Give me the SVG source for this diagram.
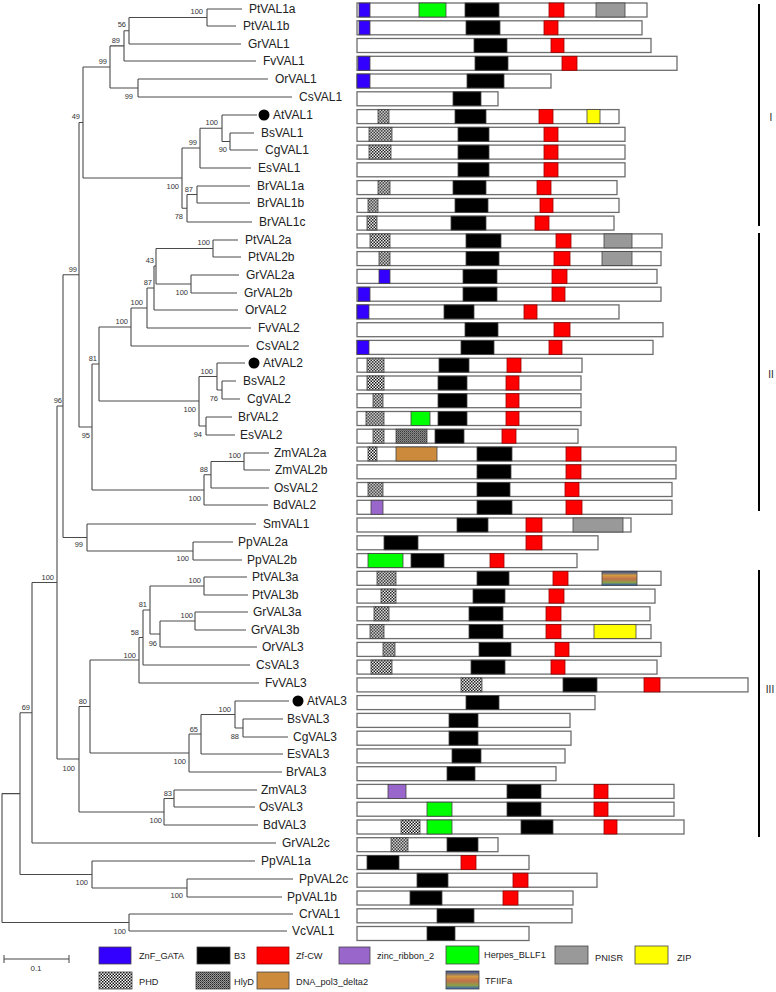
<svg xmlns="http://www.w3.org/2000/svg" width="776" height="992" viewBox="0 0 776 992">
<style>
.e{fill:none;stroke:#4a4a4a;stroke-width:1.1}
.tx{font-family:"Liberation Sans",Arial,sans-serif;font-size:12px;fill:#222}
.bs{font-family:"Liberation Sans",Arial,sans-serif;font-size:7.5px;fill:#333;text-anchor:end}
.lg{font-family:"Liberation Sans",Arial,sans-serif;font-size:9.2px;fill:#222}
.cl{font-family:"Liberation Sans",Arial,sans-serif;font-size:10px;fill:#222}
.bar{fill:#fff;stroke:#6e6e6e;stroke-width:1.3}
.d{stroke:#444;stroke-width:0.8}
.zn{fill:#3300ff}.b3{fill:#000}.cw{fill:#ff0000;stroke:#900}.zr{fill:#9966cc}.hb{fill:#00ff00}.pn{fill:#999}.zip{fill:#ffff00}.phd{fill:url(#pPHD)}.hly{fill:url(#pHly)}.dna{fill:#cc8a3c}.tf{fill:url(#gTF)}
</style>
<defs>
<pattern id="pPHD" width="3" height="3" patternUnits="userSpaceOnUse"><rect width="3" height="3" fill="#fff"/><rect width="1.5" height="1.5" fill="#111"/><rect x="1.5" y="1.5" width="1.5" height="1.5" fill="#111"/></pattern>
<pattern id="pHly" width="2" height="2" patternUnits="userSpaceOnUse"><rect width="2" height="2" fill="#9a9a9a"/><rect width="1" height="1" fill="#222"/><rect x="1" y="1" width="1" height="1" fill="#555"/></pattern>
<linearGradient id="gTF" x1="0" y1="0" x2="0" y2="1"><stop offset="0" stop-color="#2c4c9c"/><stop offset="0.3" stop-color="#d49a40"/><stop offset="0.55" stop-color="#c0704c"/><stop offset="0.8" stop-color="#8aa048"/><stop offset="1" stop-color="#3060c0"/></linearGradient>
</defs>
<rect width="776" height="992" fill="#fff"/>
<g id="connectors">
<path class="e" d="M207 9H242M207 26H236M129 44H241M124 61H256M138 79H268M138 97H292M222 115H257M230 133H254M230 150H258M200 168H251M197 186H250M197 203H250M187 222H252M213 240H238M213 257H241M191 275H239M191 293H237M154 310H238M147 328H251M131 346H249M217 363H245M222 381H236M222 399H240M206 417H232M206 435H235M244 453H269M244 470H270M211 488H269M204 505H268M87 524H256M193 542H233M193 560H242M204 577H247M204 595H248M195 612H248M195 630H246M160 647H257M143 665H250M139 683H259M235 701H289M243 719H283M243 737H288M201 754H283M189 772H282M174 790H257M174 807H255M164 825H258M32 843H276M92 861H255M187 879H293M187 897H282M129 914H293M129 931H287"/>
<path class="e" d="M129 17.5H207M124 30.75H129M110 45.9H124M110 88H138M83 67H110M222 141.5H230M200 128.25H222M182 148H200M187 194.5H197M182 208.25H187M83 178H182M79 122.5H83M156 248.5H213M156 284H191M154 266H156M147 288H154M131 308H147M99 327H131M217 390H222M199 376.5H217M199 426H206M99 401H199M92 364H99M211 461.5H244M204 474.75H211M92 490H204M79 427H92M63 274.75H79M87 551H193M63 537.5H87M57 406H63M150 586H204M160 621H195M150 634H160M143 610H150M139 637.5H143M90 660H139M235 728H243M201 714.5H235M189 734H201M90 753H189M79 706.5H90M164 798.5H174M79 812H164M57 759H79M32 582.5H57M20 712.75H32M92 888H187M20 874.5H92M2 793.6H20M2 922.5H129"/>
<path class="e" d="M207 9V26M129 17.5V44M124 30.75V61M138 79V97M110 45.9V88M230 133V150M222 115V141.5M200 128.25V168M197 186V203M187 194.5V222M182 148V208.25M83 67V178M213 240V257M191 275V293M156 248.5V284M154 266V310M147 288V328M131 308V346M222 381V399M217 363V390M206 417V435M199 376.5V426M99 327V401M244 453V470M211 461.5V488M204 474.75V505M92 364V490M79 122.5V427M193 542V560M87 524V551M63 274.75V537.5M204 577V595M195 612V630M160 621V647M150 586V634M143 610V665M139 637.5V683M243 719V737M235 701V728M201 714.5V754M189 734V772M90 660V753M174 790V807M164 798.5V825M79 706.5V812M57 406V759M32 582.5V843M187 879V897M92 861V888M20 712.75V874.5M129 914V931M2 793.6V922.5"/>
</g>
<g id="bootstrap">
<text class="bs" x="203" y="13.7">100</text>
<text class="bs" x="126" y="26.7">56</text>
<text class="bs" x="120" y="42.7">89</text>
<text class="bs" x="133" y="98.7">99</text>
<text class="bs" x="107" y="63.7">99</text>
<text class="bs" x="218" y="124.7">100</text>
<text class="bs" x="227" y="151.7">90</text>
<text class="bs" x="197" y="144.7">99</text>
<text class="bs" x="193" y="191.7">87</text>
<text class="bs" x="183" y="218.7">78</text>
<text class="bs" x="179" y="188.7">100</text>
<text class="bs" x="80" y="118.7">49</text>
<text class="bs" x="77" y="271.7">99</text>
<text class="bs" x="210" y="244.7">100</text>
<text class="bs" x="188" y="294.7">100</text>
<text class="bs" x="154" y="262.7">43</text>
<text class="bs" x="152" y="284.7">87</text>
<text class="bs" x="143" y="304.7">100</text>
<text class="bs" x="128" y="323.7">100</text>
<text class="bs" x="97" y="360.7">81</text>
<text class="bs" x="90" y="437.7">95</text>
<text class="bs" x="196" y="411.7">100</text>
<text class="bs" x="213" y="373.7">100</text>
<text class="bs" x="218" y="400.7">76</text>
<text class="bs" x="202" y="436.7">94</text>
<text class="bs" x="241" y="457.7">100</text>
<text class="bs" x="208" y="471.7">88</text>
<text class="bs" x="201" y="500.7">100</text>
<text class="bs" x="62" y="402.7">96</text>
<text class="bs" x="83" y="546.7">99</text>
<text class="bs" x="189" y="560.7">100</text>
<text class="bs" x="54" y="579.7">100</text>
<text class="bs" x="75" y="770.7">100</text>
<text class="bs" x="87" y="703.7">80</text>
<text class="bs" x="136" y="657.7">100</text>
<text class="bs" x="139" y="634.7">58</text>
<text class="bs" x="147" y="606.7">81</text>
<text class="bs" x="201" y="582.7">100</text>
<text class="bs" x="157" y="645.7">96</text>
<text class="bs" x="193" y="617.7">100</text>
<text class="bs" x="186" y="763.7">100</text>
<text class="bs" x="198" y="731.7">65</text>
<text class="bs" x="231" y="711.7">100</text>
<text class="bs" x="239" y="738.7">88</text>
<text class="bs" x="162" y="822.7">100</text>
<text class="bs" x="172" y="795.7">83</text>
<text class="bs" x="30" y="709.7">69</text>
<text class="bs" x="88" y="884.7">100</text>
<text class="bs" x="183" y="897.7">100</text>
<text class="bs" x="126" y="933.7">100</text>
</g>
<g id="taxa">
<g id="PtVAL1a"><text class="tx" x="249" y="13">PtVAL1a</text><g transform="translate(0,3)"><rect class="bar" x="357" width="290" height="14"/><rect class="d zn" x="359" width="11" height="14"/><rect class="d hb" x="419" width="27" height="14"/><rect class="d b3" x="465" width="34" height="14"/><rect class="d cw" x="549" width="15" height="14"/><rect class="d pn" x="596" width="29" height="14"/></g></g>
<g id="PtVAL1b"><text class="tx" x="243" y="30">PtVAL1b</text><g transform="translate(0,20.8)"><rect class="bar" x="357" width="285" height="14"/><rect class="d zn" x="359" width="11" height="14"/><rect class="d b3" x="466" width="34" height="14"/><rect class="d cw" x="544" width="14" height="14"/></g></g>
<g id="GrVAL1"><text class="tx" x="248" y="48">GrVAL1</text><g transform="translate(0,38.5)"><rect class="bar" x="357" width="294" height="14"/><rect class="d b3" x="474" width="33" height="14"/><rect class="d cw" x="551" width="13" height="14"/></g></g>
<g id="FvVAL1"><text class="tx" x="263" y="65">FvVAL1</text><g transform="translate(0,56.3)"><rect class="bar" x="357" width="320" height="14"/><rect class="d zn" x="358" width="12" height="14"/><rect class="d b3" x="475" width="33" height="14"/><rect class="d cw" x="562" width="15" height="14"/></g></g>
<g id="OrVAL1"><text class="tx" x="275" y="83">OrVAL1</text><g transform="translate(0,74)"><rect class="bar" x="357" width="194" height="14"/><rect class="d zn" x="357" width="13" height="14"/><rect class="d b3" x="467" width="37" height="14"/></g></g>
<g id="CsVAL1"><text class="tx" x="299" y="101">CsVAL1</text><g transform="translate(0,91.8)"><rect class="bar" x="357" width="141" height="14"/><rect class="d b3" x="453" width="28" height="14"/></g></g>
<g id="AtVAL1"><circle cx="264" cy="115" r="5.5" fill="#000"/><text class="tx" x="273" y="119">AtVAL1</text><g transform="translate(0,109.6)"><rect class="bar" x="357" width="262" height="14"/><rect class="d phd" x="378" width="11" height="14"/><rect class="d b3" x="455" width="31" height="14"/><rect class="d cw" x="539" width="14" height="14"/><rect class="d zip" x="587" width="13" height="14"/></g></g>
<g id="BsVAL1"><text class="tx" x="261" y="137">BsVAL1</text><g transform="translate(0,127.3)"><rect class="bar" x="357" width="268" height="14"/><rect class="d phd" x="369" width="23" height="14"/><rect class="d b3" x="458" width="31" height="14"/><rect class="d cw" x="544" width="14" height="14"/></g></g>
<g id="CgVAL1"><text class="tx" x="265" y="154">CgVAL1</text><g transform="translate(0,145.1)"><rect class="bar" x="357" width="268" height="14"/><rect class="d phd" x="369" width="22" height="14"/><rect class="d b3" x="458" width="31" height="14"/><rect class="d cw" x="544" width="14" height="14"/></g></g>
<g id="EsVAL1"><text class="tx" x="258" y="172">EsVAL1</text><g transform="translate(0,162.8)"><rect class="bar" x="357" width="268" height="14"/><rect class="d b3" x="458" width="31" height="14"/><rect class="d cw" x="544" width="14" height="14"/></g></g>
<g id="BrVAL1a"><text class="tx" x="257" y="190">BrVAL1a</text><g transform="translate(0,180.6)"><rect class="bar" x="357" width="260" height="14"/><rect class="d phd" x="378" width="12" height="14"/><rect class="d b3" x="453" width="33" height="14"/><rect class="d cw" x="537" width="14" height="14"/></g></g>
<g id="BrVAL1b"><text class="tx" x="257" y="207">BrVAL1b</text><g transform="translate(0,198.4)"><rect class="bar" x="357" width="262" height="14"/><rect class="d phd" x="368" width="10" height="14"/><rect class="d b3" x="455" width="33" height="14"/><rect class="d cw" x="540" width="13" height="14"/></g></g>
<g id="BrVAL1c"><text class="tx" x="259" y="226">BrVAL1c</text><g transform="translate(0,216.1)"><rect class="bar" x="357" width="257" height="14"/><rect class="d phd" x="367" width="10" height="14"/><rect class="d b3" x="451" width="35" height="14"/><rect class="d cw" x="535" width="14" height="14"/></g></g>
<g id="PtVAL2a"><text class="tx" x="245" y="244">PtVAL2a</text><g transform="translate(0,233.9)"><rect class="bar" x="357" width="305" height="14"/><rect class="d phd" x="370" width="20" height="14"/><rect class="d b3" x="466" width="35" height="14"/><rect class="d cw" x="556" width="15" height="14"/><rect class="d pn" x="604" width="28" height="14"/></g></g>
<g id="PtVAL2b"><text class="tx" x="248" y="261">PtVAL2b</text><g transform="translate(0,251.6)"><rect class="bar" x="357" width="304" height="14"/><rect class="d phd" x="379" width="11" height="14"/><rect class="d b3" x="466" width="33" height="14"/><rect class="d cw" x="554" width="16" height="14"/><rect class="d pn" x="602" width="30" height="14"/></g></g>
<g id="GrVAL2a"><text class="tx" x="246" y="279">GrVAL2a</text><g transform="translate(0,269.4)"><rect class="bar" x="357" width="300" height="14"/><rect class="d zn" x="379" width="11" height="14"/><rect class="d b3" x="463" width="34" height="14"/><rect class="d cw" x="552" width="15" height="14"/></g></g>
<g id="GrVAL2b"><text class="tx" x="244" y="297">GrVAL2b</text><g transform="translate(0,287.2)"><rect class="bar" x="357" width="304" height="14"/><rect class="d zn" x="358" width="12" height="14"/><rect class="d b3" x="463" width="34" height="14"/><rect class="d cw" x="552" width="13" height="14"/></g></g>
<g id="OrVAL2"><text class="tx" x="245" y="314">OrVAL2</text><g transform="translate(0,304.9)"><rect class="bar" x="357" width="262" height="14"/><rect class="d zn" x="357" width="12" height="14"/><rect class="d b3" x="444" width="30" height="14"/><rect class="d cw" x="524" width="13" height="14"/></g></g>
<g id="FvVAL2"><text class="tx" x="258" y="332">FvVAL2</text><g transform="translate(0,322.7)"><rect class="bar" x="357" width="306" height="14"/><rect class="d b3" x="465" width="33" height="14"/><rect class="d cw" x="554" width="16" height="14"/></g></g>
<g id="CsVAL2"><text class="tx" x="256" y="350">CsVAL2</text><g transform="translate(0,340.4)"><rect class="bar" x="357" width="296" height="14"/><rect class="d zn" x="357" width="12" height="14"/><rect class="d b3" x="461" width="33" height="14"/><rect class="d cw" x="549" width="13" height="14"/></g></g>
<g id="AtVAL2"><circle cx="254" cy="363" r="5.5" fill="#000"/><text class="tx" x="263" y="367">AtVAL2</text><g transform="translate(0,358.2)"><rect class="bar" x="357" width="225" height="14"/><rect class="d phd" x="367" width="17" height="14"/><rect class="d b3" x="439" width="30" height="14"/><rect class="d cw" x="507" width="14" height="14"/></g></g>
<g id="BsVAL2"><text class="tx" x="243" y="385">BsVAL2</text><g transform="translate(0,376)"><rect class="bar" x="357" width="224" height="14"/><rect class="d phd" x="367" width="17" height="14"/><rect class="d b3" x="438" width="29" height="14"/><rect class="d cw" x="506" width="13" height="14"/></g></g>
<g id="CgVAL2"><text class="tx" x="247" y="403">CgVAL2</text><g transform="translate(0,393.7)"><rect class="bar" x="357" width="224" height="14"/><rect class="d phd" x="373" width="10" height="14"/><rect class="d b3" x="438" width="29" height="14"/><rect class="d cw" x="506" width="13" height="14"/></g></g>
<g id="BrVAL2"><text class="tx" x="238" y="421">BrVAL2</text><g transform="translate(0,411.5)"><rect class="bar" x="357" width="224" height="14"/><rect class="d phd" x="366" width="18" height="14"/><rect class="d hb" x="411" width="19" height="14"/><rect class="d b3" x="438" width="29" height="14"/><rect class="d cw" x="506" width="13" height="14"/></g></g>
<g id="EsVAL2"><text class="tx" x="240" y="439">EsVAL2</text><g transform="translate(0,429.2)"><rect class="bar" x="357" width="221" height="14"/><rect class="d phd" x="373" width="11" height="14"/><rect class="d hly" x="396" width="31" height="14"/><rect class="d b3" x="435" width="29" height="14"/><rect class="d cw" x="502" width="14" height="14"/></g></g>
<g id="ZmVAL2a"><text class="tx" x="274" y="457">ZmVAL2a</text><g transform="translate(0,447)"><rect class="bar" x="357" width="319" height="14"/><rect class="d phd" x="368" width="9" height="14"/><rect class="d dna" x="396" width="41" height="14"/><rect class="d b3" x="477" width="35" height="14"/><rect class="d cw" x="566" width="15" height="14"/></g></g>
<g id="ZmVAL2b"><text class="tx" x="275" y="474">ZmVAL2b</text><g transform="translate(0,464.8)"><rect class="bar" x="357" width="319" height="14"/><rect class="d b3" x="477" width="34" height="14"/><rect class="d cw" x="566" width="15" height="14"/></g></g>
<g id="OsVAL2"><text class="tx" x="274" y="492">OsVAL2</text><g transform="translate(0,482.5)"><rect class="bar" x="357" width="315" height="14"/><rect class="d phd" x="368" width="15" height="14"/><rect class="d b3" x="477" width="33" height="14"/><rect class="d cw" x="565" width="14" height="14"/></g></g>
<g id="BdVAL2"><text class="tx" x="273" y="509">BdVAL2</text><g transform="translate(0,500.3)"><rect class="bar" x="357" width="315" height="14"/><rect class="d zr" x="371" width="12" height="14"/><rect class="d b3" x="477" width="35" height="14"/><rect class="d cw" x="566" width="16" height="14"/></g></g>
<g id="SmVAL1"><text class="tx" x="263" y="528">SmVAL1</text><g transform="translate(0,518)"><rect class="bar" x="357" width="274" height="14"/><rect class="d b3" x="457" width="31" height="14"/><rect class="d cw" x="526" width="16" height="14"/><rect class="d pn" x="573" width="50" height="14"/></g></g>
<g id="PpVAL2a"><text class="tx" x="238" y="546">PpVAL2a</text><g transform="translate(0,535.8)"><rect class="bar" x="357" width="241" height="14"/><rect class="d b3" x="384" width="34" height="14"/><rect class="d cw" x="526" width="16" height="14"/></g></g>
<g id="PpVAL2b"><text class="tx" x="247" y="564">PpVAL2b</text><g transform="translate(0,553.6)"><rect class="bar" x="357" width="220" height="14"/><rect class="d hb" x="368" width="35" height="14"/><rect class="d b3" x="411" width="33" height="14"/><rect class="d cw" x="490" width="14" height="14"/></g></g>
<g id="PtVAL3a"><text class="tx" x="252" y="581">PtVAL3a</text><g transform="translate(0,571.3)"><rect class="bar" x="357" width="304" height="14"/><rect class="d phd" x="377" width="19" height="14"/><rect class="d b3" x="477" width="32" height="14"/><rect class="d cw" x="553" width="15" height="14"/><rect class="d tf" x="602" width="35" height="14"/></g></g>
<g id="PtVAL3b"><text class="tx" x="252" y="599">PtVAL3b</text><g transform="translate(0,589.1)"><rect class="bar" x="357" width="298" height="14"/><rect class="d phd" x="381" width="15" height="14"/><rect class="d b3" x="473" width="32" height="14"/><rect class="d cw" x="549" width="15" height="14"/></g></g>
<g id="GrVAL3a"><text class="tx" x="253" y="616">GrVAL3a</text><g transform="translate(0,606.8)"><rect class="bar" x="357" width="293" height="14"/><rect class="d phd" x="374" width="15" height="14"/><rect class="d b3" x="469" width="34" height="14"/><rect class="d cw" x="546" width="15" height="14"/></g></g>
<g id="GrVAL3b"><text class="tx" x="251" y="634">GrVAL3b</text><g transform="translate(0,624.6)"><rect class="bar" x="357" width="294" height="14"/><rect class="d phd" x="370" width="14" height="14"/><rect class="d b3" x="469" width="34" height="14"/><rect class="d cw" x="546" width="15" height="14"/><rect class="d zip" x="594" width="42" height="14"/></g></g>
<g id="OrVAL3"><text class="tx" x="262" y="651">OrVAL3</text><g transform="translate(0,642.4)"><rect class="bar" x="357" width="304" height="14"/><rect class="d phd" x="383" width="12" height="14"/><rect class="d b3" x="479" width="32" height="14"/><rect class="d cw" x="555" width="14" height="14"/></g></g>
<g id="CsVAL3"><text class="tx" x="256" y="669">CsVAL3</text><g transform="translate(0,660.1)"><rect class="bar" x="357" width="300" height="14"/><rect class="d phd" x="371" width="21" height="14"/><rect class="d b3" x="471" width="34" height="14"/><rect class="d cw" x="551" width="14" height="14"/></g></g>
<g id="FvVAL3"><text class="tx" x="265" y="687">FvVAL3</text><g transform="translate(0,677.9)"><rect class="bar" x="357" width="391" height="14"/><rect class="d phd" x="461" width="21" height="14"/><rect class="d b3" x="563" width="34" height="14"/><rect class="d cw" x="644" width="16" height="14"/></g></g>
<g id="AtVAL3"><circle cx="298" cy="701" r="5.5" fill="#000"/><text class="tx" x="307" y="705">AtVAL3</text><g transform="translate(0,695.6)"><rect class="bar" x="357" width="238" height="14"/><rect class="d b3" x="466" width="33" height="14"/></g></g>
<g id="BsVAL3"><text class="tx" x="287" y="723">BsVAL3</text><g transform="translate(0,713.4)"><rect class="bar" x="357" width="213" height="14"/><rect class="d b3" x="449" width="29" height="14"/></g></g>
<g id="CgVAL3"><text class="tx" x="293" y="741">CgVAL3</text><g transform="translate(0,731.2)"><rect class="bar" x="357" width="214" height="14"/><rect class="d b3" x="449" width="29" height="14"/></g></g>
<g id="EsVAL3"><text class="tx" x="287" y="758">EsVAL3</text><g transform="translate(0,748.9)"><rect class="bar" x="357" width="208" height="14"/><rect class="d b3" x="452" width="29" height="14"/></g></g>
<g id="BrVAL3"><text class="tx" x="286" y="776">BrVAL3</text><g transform="translate(0,766.7)"><rect class="bar" x="357" width="199" height="14"/><rect class="d b3" x="447" width="28" height="14"/></g></g>
<g id="ZmVAL3"><text class="tx" x="261" y="794">ZmVAL3</text><g transform="translate(0,784.4)"><rect class="bar" x="357" width="317" height="14"/><rect class="d zr" x="388" width="18" height="14"/><rect class="d b3" x="507" width="34" height="14"/><rect class="d cw" x="594" width="14" height="14"/></g></g>
<g id="OsVAL3"><text class="tx" x="259" y="811">OsVAL3</text><g transform="translate(0,802.2)"><rect class="bar" x="357" width="317" height="14"/><rect class="d hb" x="427" width="25" height="14"/><rect class="d b3" x="507" width="34" height="14"/><rect class="d cw" x="594" width="14" height="14"/></g></g>
<g id="BdVAL3"><text class="tx" x="263" y="829">BdVAL3</text><g transform="translate(0,820)"><rect class="bar" x="357" width="327" height="14"/><rect class="d phd" x="401" width="19" height="14"/><rect class="d hb" x="427" width="25" height="14"/><rect class="d b3" x="521" width="32" height="14"/><rect class="d cw" x="604" width="13" height="14"/></g></g>
<g id="GrVAL2c"><text class="tx" x="282" y="847">GrVAL2c</text><g transform="translate(0,837.7)"><rect class="bar" x="357" width="141" height="14"/><rect class="d phd" x="391" width="17" height="14"/><rect class="d b3" x="447" width="31" height="14"/></g></g>
<g id="PpVAL1a"><text class="tx" x="261" y="865">PpVAL1a</text><g transform="translate(0,855.5)"><rect class="bar" x="357" width="172" height="14"/><rect class="d b3" x="367" width="32" height="14"/><rect class="d cw" x="461" width="15" height="14"/></g></g>
<g id="PpVAL2c"><text class="tx" x="299" y="883">PpVAL2c</text><g transform="translate(0,873.2)"><rect class="bar" x="357" width="240" height="14"/><rect class="d b3" x="417" width="31" height="14"/><rect class="d cw" x="513" width="15" height="14"/></g></g>
<g id="PpVAL1b"><text class="tx" x="287" y="901">PpVAL1b</text><g transform="translate(0,891)"><rect class="bar" x="357" width="216" height="14"/><rect class="d b3" x="410" width="32" height="14"/><rect class="d cw" x="503" width="15" height="14"/></g></g>
<g id="CrVAL1"><text class="tx" x="299" y="918">CrVAL1</text><g transform="translate(0,908.8)"><rect class="bar" x="357" width="215" height="14"/><rect class="d b3" x="437" width="37" height="14"/></g></g>
<g id="VcVAL1"><text class="tx" x="292" y="935">VcVAL1</text><g transform="translate(0,926.5)"><rect class="bar" x="357" width="172" height="14"/><rect class="d b3" x="427" width="28" height="14"/></g></g>
</g>
<g id="clades">
<path d="M759 4V226M759 233V511M759 570V837" stroke="#000" stroke-width="2" fill="none"/>
<text class="cl" x="771" y="121" text-anchor="middle">I</text>
<text class="cl" x="771" y="378" text-anchor="middle">II</text>
<text class="cl" x="770" y="693" text-anchor="middle">III</text>
</g>
<g id="scale">
<path d="M4 959H69M4 955V963M69 955V963" stroke="#444" stroke-width="1" fill="none"/>
<text class="bs" x="36" y="971" style="text-anchor:middle;font-size:8px">0.1</text>
</g>
<g id="legend">
<rect class="d zn" x="99" y="947" width="32" height="17"/><text class="lg" x="139" y="959">ZnF_GATA</text>
<rect class="d b3" x="197" y="947" width="33" height="17"/><text class="lg" x="234" y="959">B3</text>
<rect class="d cw" x="257" y="947" width="32" height="17"/><text class="lg" x="296" y="959">Zf-CW</text>
<rect class="d zr" x="339" y="947" width="31" height="17"/><text class="lg" x="377" y="959">zinc_ribbon_2</text>
<rect class="d hb" x="446" y="946" width="33" height="18"/><text class="lg" x="484" y="958">Herpes_BLLF1</text>
<rect class="d pn" x="555" y="946" width="33" height="18"/><text class="lg" x="595" y="961">PNISR</text>
<rect class="d zip" x="635" y="946" width="33" height="18"/><text class="lg" x="677" y="961">ZIP</text>
<rect class="d phd" x="99" y="972" width="33" height="17"/><text class="lg" x="139" y="985">PHD</text>
<rect class="d hly" x="196" y="972" width="34" height="17"/><text class="lg" x="234" y="985">HlyD</text>
<rect class="d dna" x="257" y="972" width="32" height="17"/><text class="lg" x="296" y="985">DNA_pol3_delta2</text>
<rect class="d tf" x="446" y="971" width="33" height="18"/><text class="lg" x="485" y="984">TFIIFa</text>
</g>
</svg>
